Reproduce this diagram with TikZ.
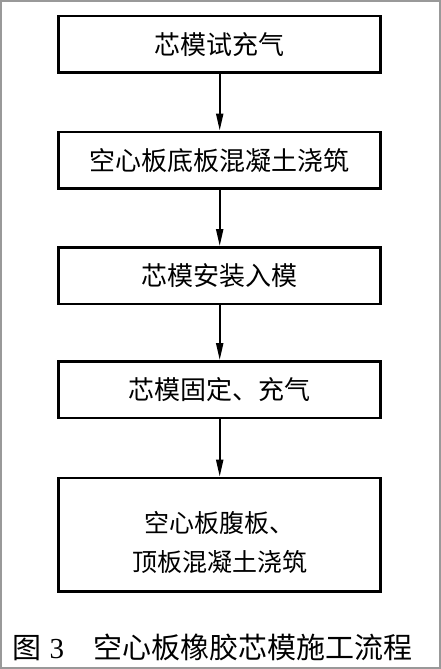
\documentclass[tikz,border=0pt]{standalone}
\usepackage{fontspec}
\newfontfamily\cjk{Noto Sans CJK SC}
\newfontfamily\digitfont{Liberation Serif}
\usetikzlibrary{arrows.meta}
\begin{document}
\begin{tikzpicture}[x=1pt,y=-1pt,
  stepbox/.style={draw, line width=2.7pt, minimum width=322pt, minimum height=56.5pt, inner sep=0pt,
    font=\cjk\fontsize{26}{30}\selectfont},
  tallbox/.style={stepbox, minimum height=113.3pt},
  boxtext/.style={inner sep=0pt, align=center, font=\cjk\fontsize{25}{39}\selectfont},
  flow/.style={line width=2pt, -{Triangle[length=17pt,width=7pt]}},
  captext/.style={inner sep=0pt, anchor=west, font=\cjk\fontsize{29}{34}\selectfont}]
\useasboundingbox (0,0) rectangle (441,669);
\draw[gray!80, line width=2pt] (1,1) rectangle (440,668);
\node[stepbox] (b1) at (219.7,44.3) {芯模试充气};
\node[stepbox] (b2) at (219.7,160.2) {空心板底板混凝土浇筑};
\node[stepbox] (b3) at (219.7,275.7) {芯模安装入模};
\node[stepbox] (b4) at (219.7,389.7) {芯模固定、充气};
\node[tallbox] (b5) at (219.7,534.7) {};
\node[boxtext] (t5) at (219.7,542) {空心板腹板、\\顶板混凝土浇筑};
\draw[flow] (b1) -- (b2);
\draw[flow] (b2) -- (b3);
\draw[flow] (b3) -- (b4);
\draw[flow] (b4) -- (b5);
\node[captext] (cap) at (12.5,647.5) {图\hspace{8pt}{\digitfont 3}\hspace{29pt}空心板橡胶芯模施工流程};
\end{tikzpicture}
\end{document}
